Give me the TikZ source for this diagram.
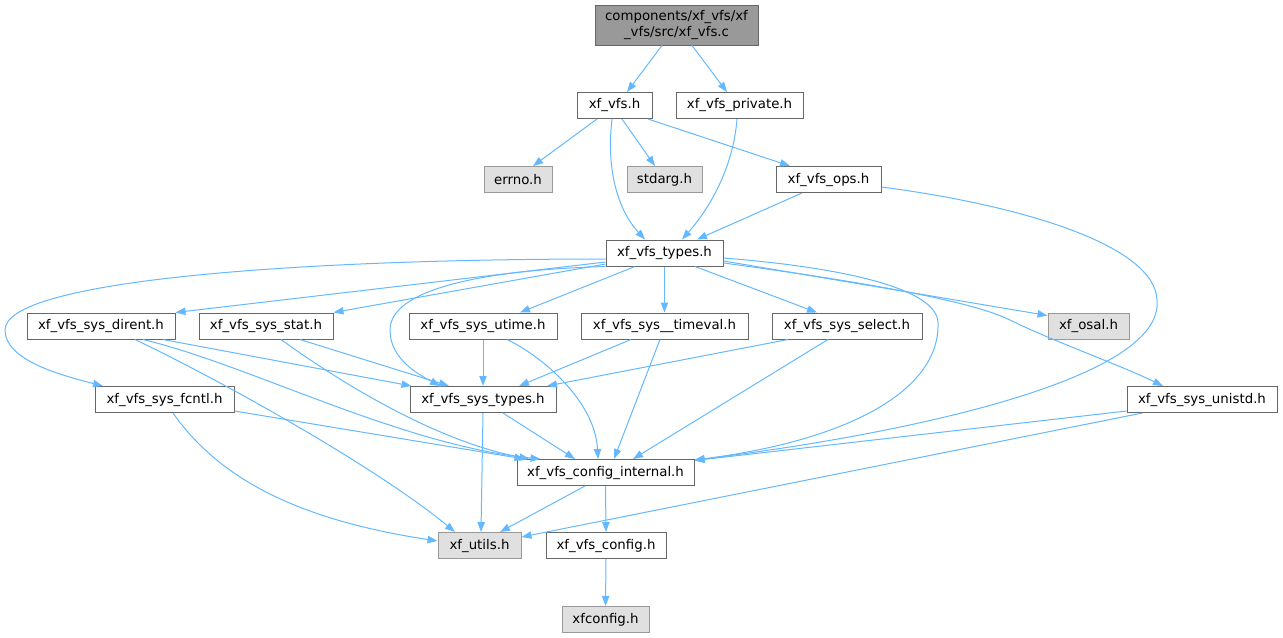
\documentclass[tikz,border=0pt]{standalone}
\usepackage{fontspec}
\setmainfont{DejaVu Sans}
\usetikzlibrary{arrows.meta,calc}
\definecolor{edgec}{HTML}{63B8FF}
\definecolor{bord}{HTML}{666666}
\definecolor{gbord}{HTML}{999999}
\definecolor{gfill}{HTML}{E0E0E0}
\definecolor{rfill}{HTML}{999999}
\begin{document}
\begin{tikzpicture}[x=0.75pt,y=-0.75pt,
  hbox/.style={draw=bord, fill=white, line width=0.75pt, inner sep=0pt, minimum height=19.5pt, minimum width=#1*0.75pt, font=\fontsize{10}{11.5}\selectfont},
  extbox/.style={hbox=#1, draw=gbord, fill=gfill},
  rootbox/.style={hbox=#1, fill=rfill, minimum height=30pt, align=center},
  edge/.style={draw=edgec, line width=0.75pt, -{Triangle[length=7.5pt,width=5.5pt]}}
]
\useasboundingbox (0,0) rectangle (1283,637);

\node[rootbox=163] (root) at (676.5,25) {components/xf\_vfs/xf\\\_vfs/src/xf\_vfs.c};
\node[hbox=75] (vfs) at (614.5,105.5) {xf\_vfs.h};
\node[hbox=127] (priv) at (739.5,105.5) {xf\_vfs\_private.h};
\node[extbox=68] (errno) at (518,179.5) {errno.h};
\node[extbox=75] (stdarg) at (664.5,179.5) {stdarg.h};
\node[hbox=105] (ops) at (828.5,179.5) {xf\_vfs\_ops.h};
\node[hbox=117] (types) at (664.5,253) {xf\_vfs\_types.h};
\node[hbox=148] (dirent) at (101,326) {xf\_vfs\_sys\_dirent.h};
\node[hbox=134] (stat) at (266,326) {xf\_vfs\_sys\_stat.h};
\node[hbox=148] (utime) at (483,326) {xf\_vfs\_sys\_utime.h};
\node[hbox=167] (timeval) at (664.5,326) {xf\_vfs\_sys\_\_timeval.h};
\node[hbox=150] (select) at (847,326) {xf\_vfs\_sys\_select.h};
\node[extbox=81] (osal) at (1088.5,326) {xf\_osal.h};
\node[hbox=139] (fcntl) at (164.5,399.5) {xf\_vfs\_sys\_fcntl.h};
\node[hbox=146] (systypes) at (483,399.5) {xf\_vfs\_sys\_types.h};
\node[hbox=150] (unistd) at (1202,399.5) {xf\_vfs\_sys\_unistd.h};
\node[hbox=177] (cint) at (605.5,472.5) {xf\_vfs\_config\_internal.h};
\node[extbox=83] (utils) at (479.5,545.5) {xf\_utils.h};
\node[hbox=120] (config) at (606,545.5) {xf\_vfs\_config.h};
\node[extbox=87] (xfconfig) at (605.5,619.5) {xfconfig.h};

% root
\draw[edge] ($(root.south)+(-14.5,0)$) -- ($(vfs.north)+(12.5,0)$);
\draw[edge] ($(root.south)+(15.5,0)$) -- ($(priv.north)+(-12.5,0)$);
% xf_vfs.h
\draw[edge] ($(vfs.south)+(-17.5,0)$) -- ($(errno.north)+(15,0)$);
\draw[edge] ($(vfs.south)+(7.5,0)$) -- ($(stdarg.north)+(-9.5,0)$);
\draw[edge] ($(vfs.south)+(33.5,0)$) -- ($(ops.north)+(-38.5,0)$);
\draw[edge] ($(vfs.south)+(-2.5,0)$) .. controls (606,170) and (618,210) .. ($(types.north)+(-19.5,0)$);
% private
\draw[edge] ($(priv.south)+(-2.5,0)$) .. controls (733,170) and (708,210) .. ($(types.north)+(17.5,0)$);
% ops
\draw[edge] ($(ops.south)+(-26.5,0)$) -- ($(types.north)+(32.5,0)$);
\draw[edge] ($(ops.east)+(0,7.5)$) .. controls (1020,205) and (1155,245) .. (1157,300)
  .. controls (1165,380) and (900,435) .. ($(cint.north east)+(0,1)$);
% types
\draw[edge] ($(types.west)+(0,6)$) .. controls (300,259) and (5,280) .. (5,330)
  .. controls (5,360) and (60,375) .. ($(fcntl.north)+(-61.5,0)$);
\draw[edge] ($(types.west)+(0,9)$) -- (dirent.north east);
\draw[edge] ($(types.west)+(0,11)$) -- (stat.north east);
\draw[edge] (types.south west) .. controls (480,270) and (390,290) .. (390,330)
  .. controls (390,360) and (420,375) .. ($(systypes.north)+(-43,0)$);
\draw[edge] ($(types.south)+(-29.5,0)$) -- ($(utime.north)+(37,0)$);
\draw[edge] (types.south) -- (timeval.north);
\draw[edge] ($(types.south)+(30.5,0)$) -- ($(select.north)+(-30,0)$);
\draw[edge] ($(types.east)+(0,8)$) -- ($(osal.north west)+(0,3)$);
\draw[edge] ($(types.east)+(0,10)$) .. controls (850,280) and (970,300) .. (1010,320)
  .. controls (1050,340) and (1120,365) .. ($(unistd.north)+(-39,0)$);
\draw[edge] ($(types.east)+(0,5)$) .. controls (850,268) and (938,290) .. (938,323)
  .. controls (940,390) and (850,440) .. ($(cint.north east)+(0,1)$);
% dirent
\draw[edge] ($(dirent.south)+(62,0)$) -- ($(systypes.north west)+(2,0)$);
\draw[edge] ($(dirent.south)+(42,0)$) .. controls (250,365) and (400,445) .. ($(cint.north west)+(24,0)$);
\draw[edge] ($(dirent.south)+(34,0)$) .. controls (230,385) and (380,470) .. ($(utils.north)+(-24.5,0)$);
% stat
\draw[edge] ($(stat.south)+(34,0)$) -- ($(systypes.north)+(-34,0)$);
\draw[edge] ($(stat.south)+(15,0)$) .. controls (330,375) and (430,440) .. ($(cint.north west)+(13,0)$);
% fcntl
\draw[edge] ($(fcntl.south east)+(0,-2)$) -- ($(cint.north west)+(8,0)$);
\draw[edge] ($(fcntl.south)+(8.5,0)$) .. controls (220,480) and (300,520) .. ($(utils.west)+(0,-4.5)$);
% utime
\draw[edge] (utime.south) -- (systypes.north);
\draw[edge] ($(utime.south)+(24,0)$) .. controls (540,355) and (595,400) .. ($(cint.north)+(-7.5,0)$);
% timeval
\draw[edge] ($(timeval.south)+(-33.5,0)$) -- ($(systypes.north)+(36,0)$);
\draw[edge] ($(timeval.south)+(-4.5,0)$) -- ($(cint.north)+(8.5,0)$);
% select
\draw[edge] ($(select.south)+(-59,0)$) -- ($(systypes.north)+(64,0)$);
\draw[edge] ($(select.south)+(-19,0)$) -- ($(cint.north)+(27.5,0)$);
% sys_types
\draw[edge] (systypes.south) -- ($(utils.north)+(1.5,0)$);
\draw[edge] ($(systypes.south)+(20,0)$) -- ($(cint.north)+(-30.5,0)$);
% unistd
\draw[edge] ($(unistd.west)+(0,11.5)$) -- ($(cint.north east)+(0,1.5)$);
\draw[edge] ($(unistd.south west)+(16,0)$) -- ($(utils.east)+(0,-8.5)$);
% config_internal
\draw[edge] ($(cint.south)+(-20.5,0)$) -- ($(utils.north)+(20.5,0)$);
\draw[edge] (cint.south) -- (config.north);
\draw[edge] (config.south) -- (xfconfig.north);
\end{tikzpicture}
\end{document}
